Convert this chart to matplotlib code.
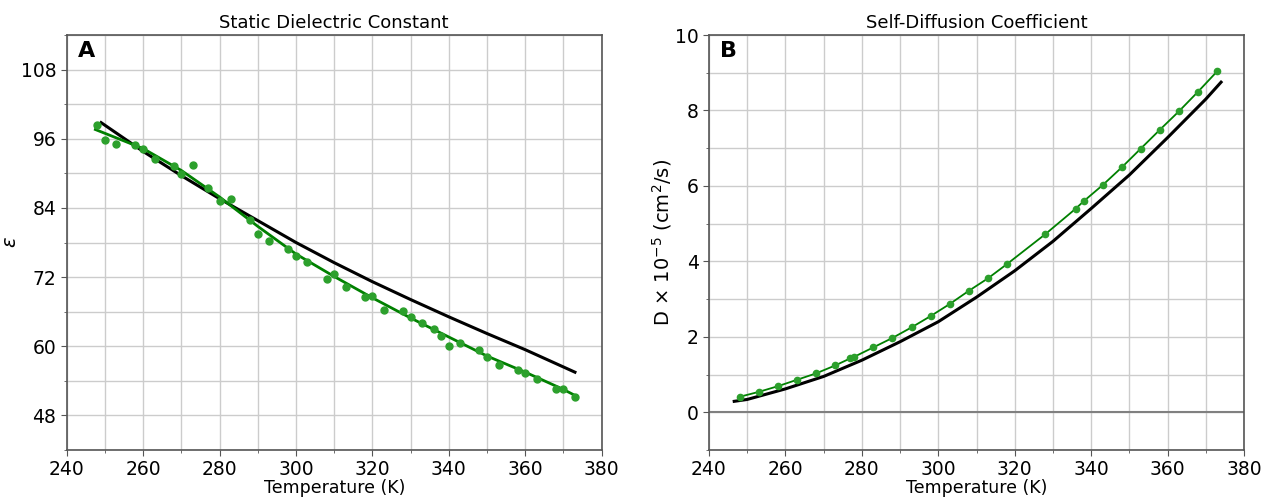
import numpy as np
import matplotlib
matplotlib.use("Agg")
import matplotlib.pyplot as plt
from matplotlib.ticker import MultipleLocator

# region data
# panel A: static dielectric constant, measured points
eps_T = [248, 250, 253, 258, 260, 263, 268, 270, 273, 277, 280, 283, 288, 290,
         293, 298, 300, 303, 308, 310, 313, 318, 320, 323, 328, 330, 333, 336,
         338, 340, 343, 348, 350, 353, 358, 360, 363, 368, 370, 373]
eps_pts = [98.3, 95.7, 95.1, 95.0, 94.2, 92.5, 91.2, 89.9, 91.4, 87.4, 85.2, 85.5,
           81.9, 79.4, 78.2, 76.9, 75.7, 74.6, 71.7, 72.5, 70.3, 68.5, 68.7, 66.3,
           66.1, 65.0, 64.0, 63.0, 61.7, 60.0, 60.6, 59.3, 58.1, 56.7, 55.8, 55.4,
           54.4, 52.6, 52.5, 51.2]
# fit through the points (green line)
eps_fit_T = [247.5, 260, 270, 280, 290, 300, 310, 320, 330, 340, 350, 360, 370, 373.5]
eps_fit = [97.6, 94.3, 90.5, 85.9, 80.8, 76.0, 72.1, 68.4, 64.9, 61.6, 58.3, 55.5, 52.5, 51.3]
# model curve (black line)
eps_mod_T = [249, 260, 270, 280, 290, 300, 310, 320, 330, 340, 350, 360, 373]
eps_mod = [98.8, 93.8, 89.6, 85.6, 81.8, 78.0, 74.5, 71.2, 68.1, 65.1, 62.2, 59.4, 55.5]

# panel B: self-diffusion coefficient (x 1e-5 cm^2/s)
D_T = [248, 253, 258, 263, 268, 273, 277, 278, 283, 288, 293, 298, 303, 308,
       313, 318, 328, 336, 338, 343, 348, 353, 358, 363, 368, 373]
D_pts = [0.41, 0.54, 0.69, 0.86, 1.03, 1.24, 1.43, 1.47, 1.72, 1.97, 2.25, 2.55,
         2.87, 3.22, 3.55, 3.93, 4.72, 5.40, 5.59, 6.02, 6.49, 6.99, 7.49, 7.98,
         8.50, 9.04]
D_mod_T = [246.6, 250, 260, 270, 280, 290, 300, 310, 320, 330, 340, 350, 360, 370, 374]
D_mod = [0.29, 0.34, 0.62, 0.95, 1.38, 1.87, 2.40, 3.05, 3.75, 4.53, 5.40, 6.29, 7.28, 8.30, 8.75]
# endregion data

W, H = 1266, 497
fig = plt.figure(figsize=(W / 100, H / 100), dpi=100)

spine_c = "#555555"
grid_c = "#cccccc"


def style(ax):
    ax.xaxis.set_major_locator(MultipleLocator(20))
    ax.xaxis.set_minor_locator(MultipleLocator(10))
    ax.grid(which="both", color=grid_c, lw=1.0)
    ax.set_axisbelow(True)
    for s in ax.spines.values():
        s.set_color(spine_c)
        s.set_linewidth(1.2)
    ax.tick_params(which="major", labelsize=13.5, length=4, color=spine_c)
    ax.tick_params(which="minor", length=2.5, color=spine_c)
    ax.set_xlim(240, 380)
    ax.set_xlabel("Temperature (K)", fontsize=12.5, labelpad=0)


axA = fig.add_axes([66.7 / W, 1 - 450 / H, 535 / W, 415 / H])
style(axA)
axA.set_ylim(42, 114)
axA.yaxis.set_major_locator(MultipleLocator(12))
axA.yaxis.set_minor_locator(MultipleLocator(6))
axA.plot(eps_mod_T, eps_mod, color="black", lw=2.2, zorder=3)
axA.plot(eps_fit_T, eps_fit, color="#008000", lw=2.0, zorder=4)
axA.plot(eps_T, eps_pts, "o", color="#2ca02c", ms=5, zorder=5)
axA.set_title("Static Dielectric Constant", fontsize=13, pad=5)
axA.set_ylabel(r"$\varepsilon$", fontsize=14)
axA.yaxis.set_label_coords(-0.088, 0.5)
axA.text(0.037, 0.985, "A", transform=axA.transAxes, ha="center", va="top",
         fontsize=16, fontweight="bold")

axB = fig.add_axes([709 / W, 1 - 450 / H, 535 / W, 415 / H])
style(axB)
axB.set_ylim(-1, 10)
axB.yaxis.set_major_locator(MultipleLocator(2))
axB.yaxis.set_minor_locator(MultipleLocator(1))
axB.axhline(0, color="#808080", lw=1.5, zorder=2)
axB.plot(D_mod_T, D_mod, color="black", lw=2.2, zorder=3)
axB.plot(D_T, D_pts, "o-", color="#008000", mfc="#2ca02c", mec="#2ca02c",
         lw=1.3, ms=4.5, zorder=4)
axB.set_title("Self-Diffusion Coefficient", fontsize=13, pad=5)
axB.set_ylabel(r"D $\times$ 10$^{-5}$ (cm$^2$/s)", fontsize=14)
axB.yaxis.set_label_coords(-0.066, 0.5)
axB.text(0.037, 0.985, "B", transform=axB.transAxes, ha="center", va="top",
         fontsize=16, fontweight="bold")

fig.savefig("out.png", dpi=100)
